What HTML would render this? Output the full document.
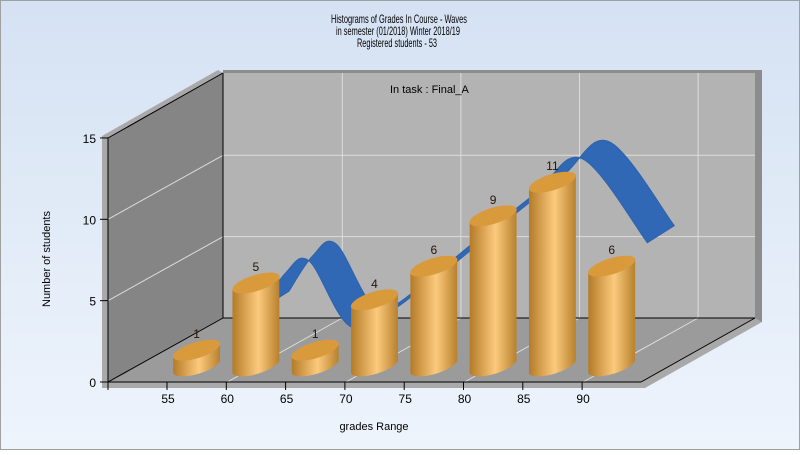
<!DOCTYPE html>
<html><head><meta charset="utf-8"><style>
html,body{margin:0;padding:0;}
body{width:800px;height:450px;overflow:hidden;font-family:"Liberation Sans",sans-serif;}
svg text{font-family:"Liberation Sans",sans-serif;}
</style></head><body>
<svg id="chart" width="800" height="450" viewBox="0 0 800 450" xmlns="http://www.w3.org/2000/svg">
<defs>
<linearGradient id="bg" x1="0" y1="0" x2="0" y2="1"><stop offset="0" stop-color="#d5e2f3"/><stop offset="1" stop-color="#eef4fc"/></linearGradient>
<linearGradient id="cyl" x1="0" y1="0" x2="1" y2="0"><stop offset="0" stop-color="#b47b28"/><stop offset="0.55" stop-color="#fcca7d"/><stop offset="1" stop-color="#b7802c"/></linearGradient>
</defs>
<rect x="0.5" y="0.5" width="799" height="449" fill="url(#bg)" stroke="#a0a0a0"/>
<g font-size="12" fill="#000" text-anchor="middle">
<text x="399" y="23" textLength="136" lengthAdjust="spacingAndGlyphs">Histograms of Grades  In Course - Waves</text>
<text x="398" y="35" textLength="124" lengthAdjust="spacingAndGlyphs">in semester  (01/2018) Winter 2018/19</text>
<text x="397" y="47" textLength="80" lengthAdjust="spacingAndGlyphs">Registered students - 53</text>
</g>
<polygon points="223,70 762,70 762,322 755,322 755,73 223,73" fill="#8c8c8c"/>
<polygon points="108,382 641,382 755,318 762,322 645,388 108,388" fill="#a9a9a9"/>
<polygon points="102,136 218,70 223,73 108,138 108,388 102,388" fill="#a9a9a9"/>
<polygon points="223,73 755,73 755,318 223,318" fill="#b3b3b3"/>
<polygon points="108,138 223,73 223,318 108,382" fill="#858585"/>
<polygon points="108,382 641,382 755,318 223,318" fill="#9b9b9b"/>
<g id="grid" stroke="#dcdcdc" stroke-width="1"></g>
<g stroke="#000" stroke-width="1" fill="none">
<polyline points="108,138 223,73"/><line x1="223" y1="73" x2="223" y2="318"/>
<line x1="108" y1="138" x2="108" y2="382"/><line x1="108" y1="382" x2="223" y2="318"/>
<line x1="223" y1="318" x2="755" y2="318"/><line x1="641" y1="382" x2="755" y2="318"/>
<line x1="108" y1="382" x2="641" y2="382"/>
</g>
<g id="axes"></g>
<g id="wave"></g>
<g id="bars"></g>
<text x="390" y="93" font-size="11" fill="#000">In task : Final_A</text>
<text transform="translate(50,259) rotate(-90)" text-anchor="middle" font-size="11" fill="#000">Number of students</text>
<text x="374" y="430" text-anchor="middle" font-size="11" fill="#000">grades Range</text>
</svg>
<script>
const categories=[55,60,65,70,75,80,85,90];
const counts=[1,5,1,4,6,9,11,6];
const yTicks=[0,5,10,15];
const waveGrades=[63,65,67,70.5,74.5,80.5,86,90,95.5];
const waveValues=[3.5,5.6,6.3,2.4,3.8,7.2,10.3,12.4,7.4];
const NS='http://www.w3.org/2000/svg';
const DX=115,DY=-64;
function xFront(g){return 167+(g-55)*11.86;}
function yFront(v){return 382-v*16.27;}
function yBar(v){return 367-v*16.8;}
function mk(tag,attrs,parent){const e=document.createElementNS(NS,tag);for(const k in attrs)e.setAttribute(k,attrs[k]);parent.appendChild(e);return e;}
const grid=document.getElementById('grid');
yTicks.forEach(t=>{if(t===0||t===15)return;
 const l=mk('line',{x1:108,y1:yFront(t),x2:223,y2:yFront(t)+DY},grid);
 
 
 const b=mk('line',{x1:223,y1:yFront(t)+DY,x2:755,y2:yFront(t)+DY},grid);
 
 
});
[60,70,80,90].forEach(g=>{const x=xFront(g)+1;
 const f=mk('line',{x1:x,y1:382,x2:x+DX,y2:318},grid);
 
 
 const v=mk('line',{x1:x+DX,y1:318,x2:x+DX,y2:73},grid);
 
 
});
const axes=document.getElementById('axes');
yTicks.forEach(t=>{const y=yFront(t);
 mk('line',{x1:100,y1:y,x2:108,y2:y,stroke:'#000'},axes);
 const tx=mk('text',{x:96,y:y+5,'text-anchor':'end','font-size':12,fill:'#000'},axes);tx.textContent=t;
 
 
});
mk('line',{x1:108,y1:382,x2:108,y2:390,stroke:'#000'},axes);
categories.forEach(c=>{const x=xFront(c);
 mk('line',{x1:x,y1:382,x2:x,y2:390,stroke:'#000'},axes);
 const tx=mk('text',{x:x+1,y:403,'text-anchor':'middle','font-size':12,fill:'#000'},axes);tx.textContent=c;
 
 
});
const pts=waveGrades.map((g,i)=>[xFront(g),yBar(waveValues[i])]);
function spline(p){let d='M'+p[0][0]+','+p[0][1];
 for(let i=0;i<p.length-1;i++){const p0=p[i-1]||p[i],p1=p[i],p2=p[i+1],p3=p[i+2]||p2;
  d+=' C'+(p1[0]+(p2[0]-p0[0])/6)+','+(p1[1]+(p2[1]-p0[1])/6)+' '+(p2[0]-(p3[0]-p1[0])/6)+','+(p2[1]-(p3[1]-p1[1])/6)+' '+p2[0]+','+p2[1];}
 return d;}
const back=pts.map(p=>[p[0]+27,p[1]-17]).reverse();
function splineCont(p){return spline(p).replace(/^M/,'L');}
const wave=document.getElementById('wave');
const rib=mk('path',{d:spline(pts)+' '+splineCont(back)+' Z',fill:'#3068b6',stroke:'#2d62ad','stroke-width':1},wave);


const bars=document.getElementById('bars');
const ang=-17*Math.PI/180,rx=24.5,ry=8;
function ept(cx,cy,t){return [cx+rx*Math.cos(t)*Math.cos(ang)-ry*Math.sin(t)*Math.sin(ang),cy+rx*Math.cos(t)*Math.sin(ang)+ry*Math.sin(t)*Math.cos(ang)];}
categories.forEach((c,i)=>{const v=counts[i];const cx=xFront(c)+29.6;const yb=366,yt=yBar(v);
 const g=mk('g',{},bars);
 
 
 const L=ept(cx,yt,Math.PI),R=ept(cx,yt,0),Lb=ept(cx,yb,Math.PI),Rb=ept(cx,yb,0);
 let d='M'+L[0]+','+L[1]+' L'+Lb[0]+','+Lb[1]+' A'+rx+','+ry+' -17 0 0 '+Rb[0]+','+Rb[1]+' L'+R[0]+','+R[1]+' Z';
 mk('path',{d:d,fill:'url(#cyl)'},g);
 mk('ellipse',{cx:cx,cy:yt,rx:rx,ry:ry,transform:'rotate(-17 '+cx+' '+yt+')',fill:'#d89a3a'},g);
 const t=mk('text',{x:cx,y:yt-12,'text-anchor':'middle','font-size':12,fill:'#2a1208'},g);t.textContent=v;
 
 
});
</script>
</body></html>
